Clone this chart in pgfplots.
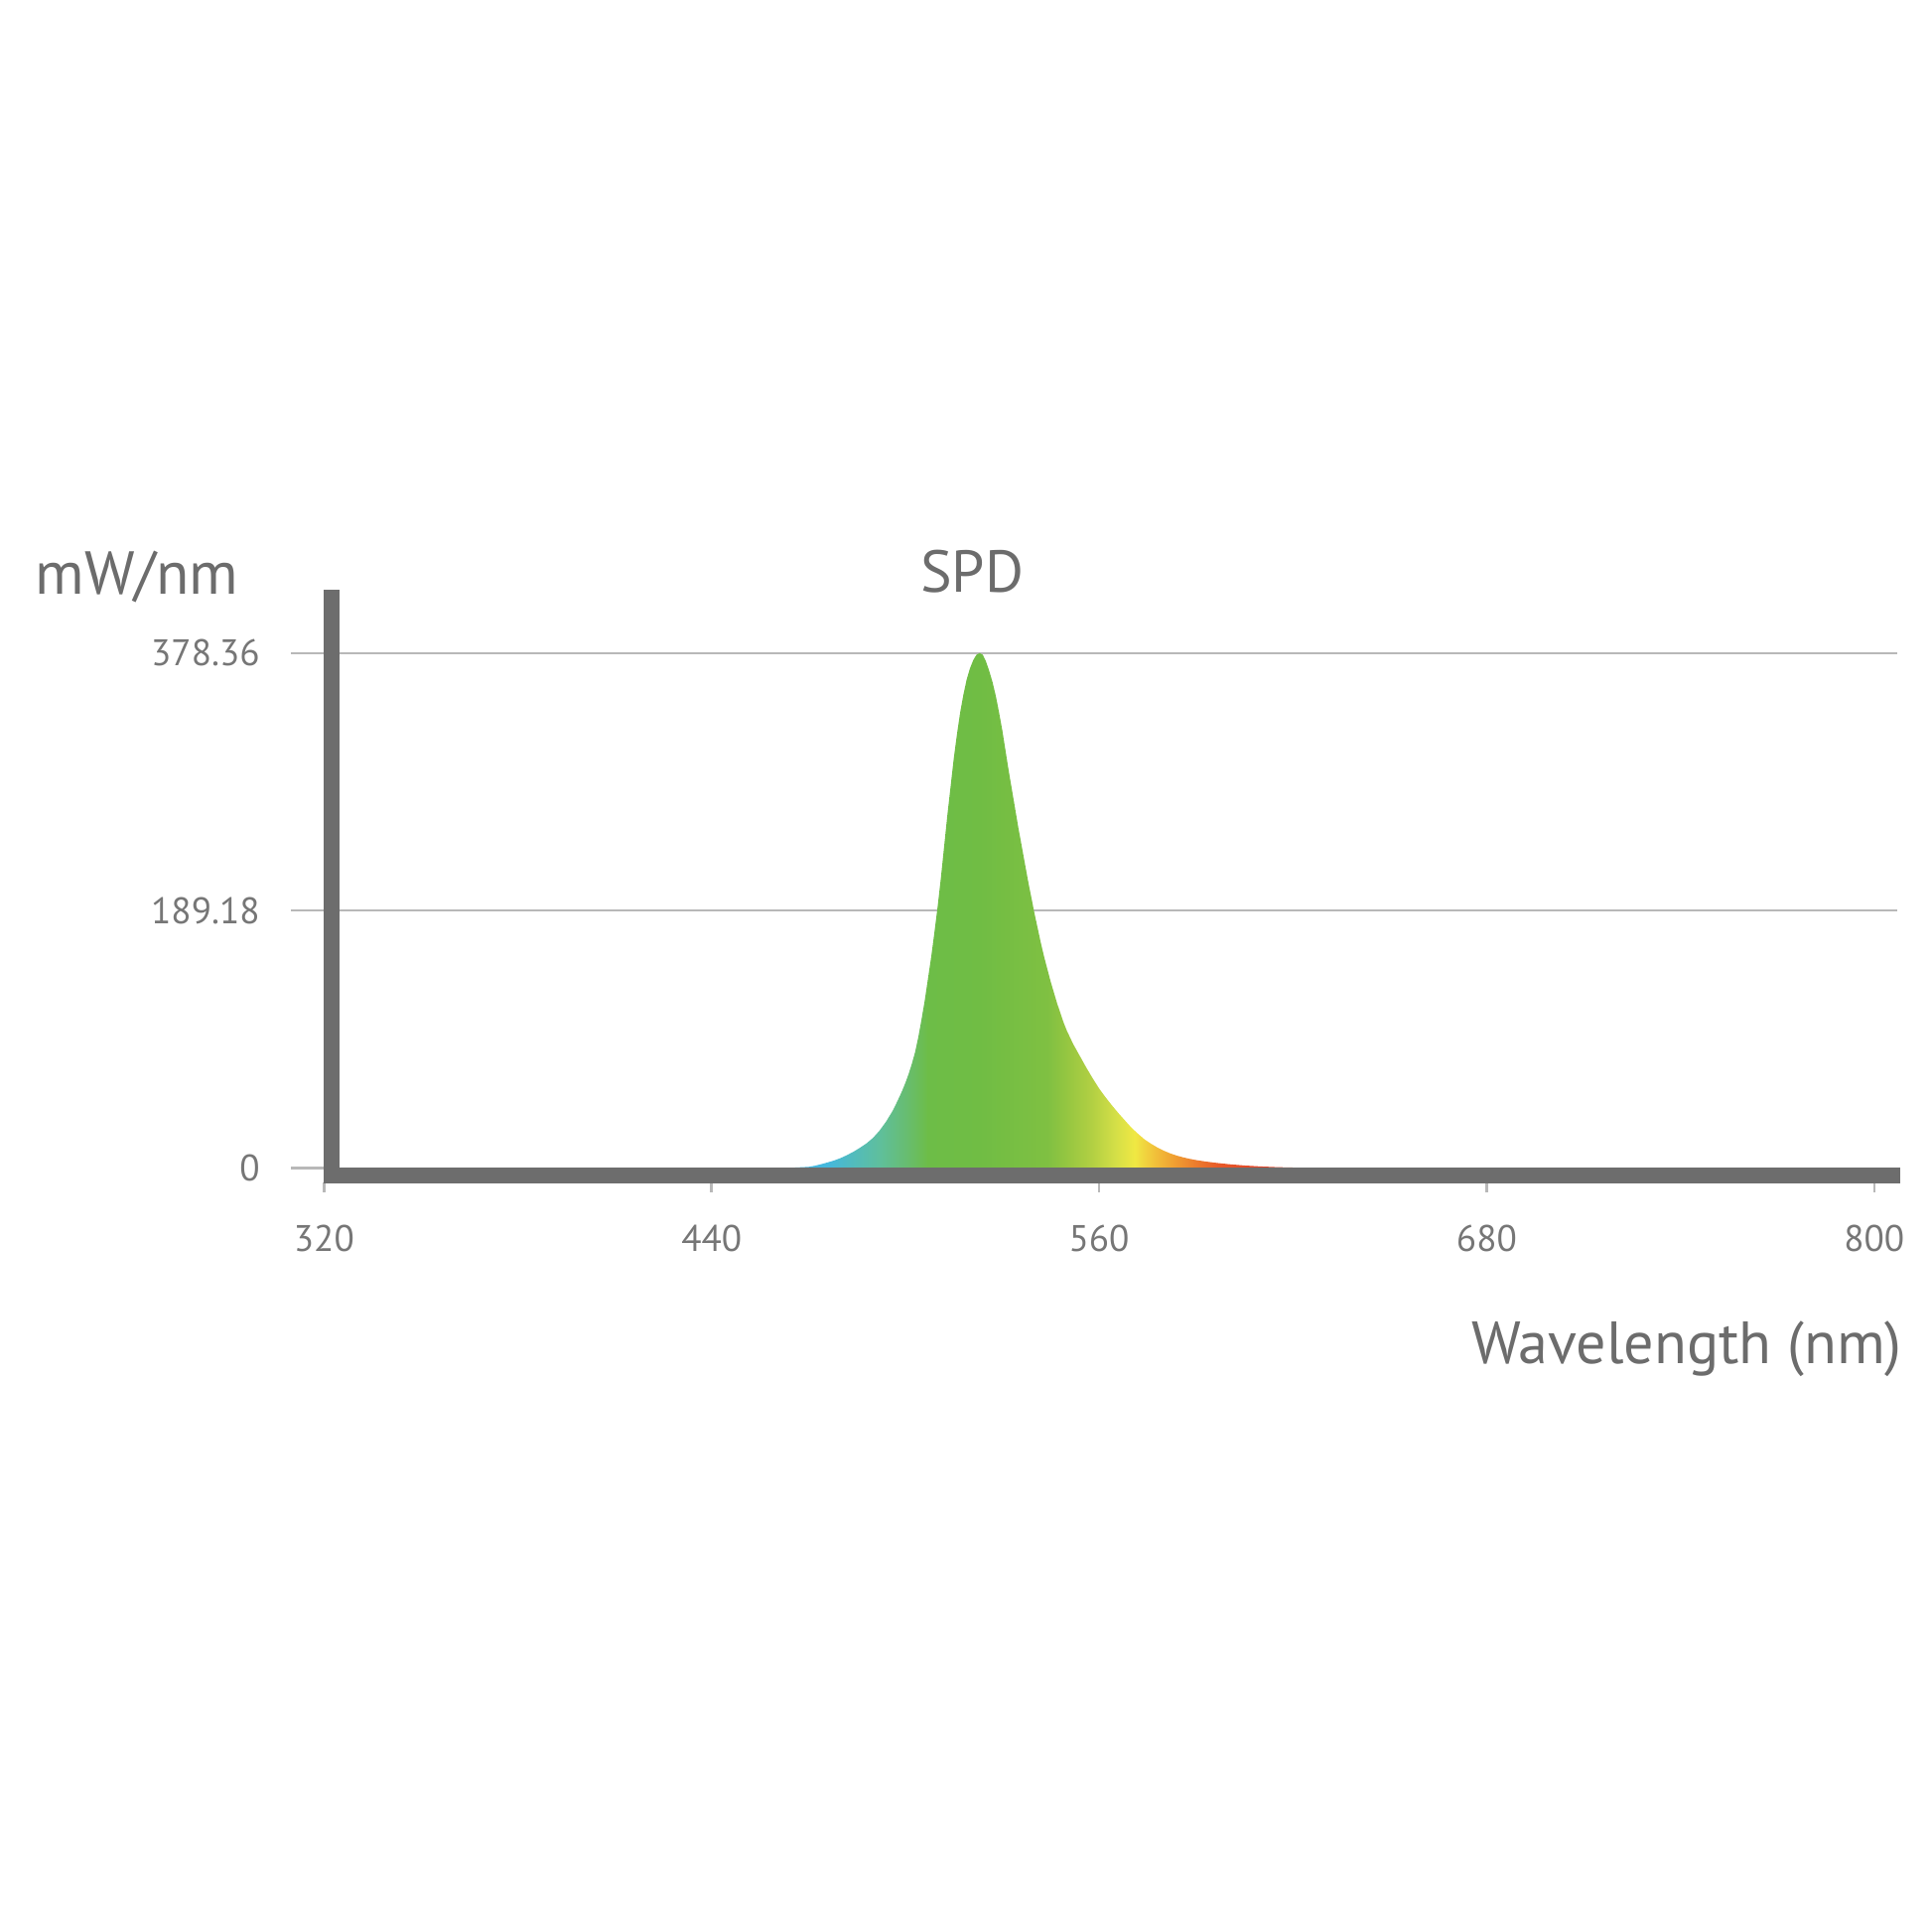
\documentclass[border=0pt]{standalone}
\usepackage{fontspec}
\setmainfont{PT Sans}
\usepackage{pgfplots}
\pgfplotsset{compat=1.18}
\definecolor{axgray}{HTML}{6D6D6D}
\definecolor{txtgray}{HTML}{6C6C6C}
\definecolor{ticktxt}{HTML}{767676}
\definecolor{gridgray}{HTML}{B8B8B8}
\definecolor{s01}{HTML}{3FB4E5}
\definecolor{s02}{HTML}{45B8DC}
\definecolor{s03}{HTML}{5FBF9C}
\definecolor{s04}{HTML}{67BD72}
\definecolor{s05}{HTML}{6DBD47}
\definecolor{s06}{HTML}{70BD44}
\definecolor{s07}{HTML}{7FC042}
\definecolor{s08}{HTML}{95C641}
\definecolor{s09}{HTML}{B3D043}
\definecolor{s10}{HTML}{D4DF47}
\definecolor{s11}{HTML}{F0E843}
\definecolor{s12}{HTML}{F1C23A}
\definecolor{s13}{HTML}{F0A032}
\definecolor{s14}{HTML}{EC7B2D}
\definecolor{s15}{HTML}{E85A28}
\definecolor{s16}{HTML}{E0452A}
% path spans 460..640 nm -> 25bp..75bp
\pgfdeclarehorizontalshading{spd}{100bp}{%
  color(0bp)=(s01); color(25bp)=(s01); color(29.44bp)=(s02);
  color(33.89bp)=(s03); color(36.11bp)=(s04); color(38.06bp)=(s05);
  color(42.5bp)=(s06); color(48.33bp)=(s07); color(50bp)=(s08);
  color(52.22bp)=(s09); color(54.17bp)=(s10); color(55.83bp)=(s11);
  color(57.5bp)=(s12); color(59.17bp)=(s13); color(61.11bp)=(s14);
  color(63.06bp)=(s15); color(66.67bp)=(s16); color(75bp)=(s16);
  color(100bp)=(s16)}

\pgfplotstableread{
x y
460 0
465 0.3
470 0.9
472 1.7
474 2.9
476 4.2
478 5.6
480 7.4
482 9.6
484 12.1
486 15.0
488 18.2
490 22.2
492 27.5
494 34.0
496 41.8
497 46.5
498 51.5
499 56.7
500 62.5
501 69
502 76.5
503 85
504 96
505 109
506 123
507 139
508 155
509 173
510 192
511 213
512 236
513 259
514 280
515 301
516 319
517 335
518 348
519 359
520 367
521 373
522 377
523 378.36
524 377
525 372
526 365
527 357
528 347
529 335
530 322
531 307
532 292
533 278
534 264
535 250
536 237
537 224
538 211
539 199
540 187
541 176
542 165
543 155
544 146
545 137
546 129
547 121
548 114
549 107
550 101
552 91
554 82.5
556 74
558 66
560 58.5
562 52
564 46
566 40.3
568 35
570 29.7
572 25.3
574 21.2
576 18
578 15.2
580 12.8
582 10.8
584 9.2
586 7.9
588 6.8
590 5.9
593 4.8
596 3.9
600 2.9
605 1.9
610 1.2
615 0.7
620 0.4
630 0.1
640 0
}\spd

\begin{document}
\begin{tikzpicture}
\useasboundingbox (-59pt,-152.125pt) rectangle (333pt,239.875pt);
\begin{axis}[
  at={(0pt,0pt)}, anchor=south west,
  scale only axis, width=326.05pt, height=120.26pt,
  xmin=309.7, xmax=807.3, ymin=-10.4, ymax=425,
  clip=false,
  axis line style={draw=none},
  xtick={320,440,560,680,800},
  ytick={189.18,378.36},
  yticklabels={189.18,378.36},
  extra y ticks={0},
  extra y tick labels={0},
  extra y tick style={ymajorgrids=false},
  tick pos=left,
  tick align=outside,
  major tick length=2pt,
  ytick style={draw=none},
  xtick style={draw=gridgray, line width=0.5pt},
  ymajorgrids,
  major grid style={gridgray, line width=0.5pt},
  ticklabel style={font=\fontsize{7.5}{9}\selectfont, text=ticktxt},
  /pgf/number format/assume math mode=true,
  yticklabel style={anchor=east, inner sep=0pt, xshift=-4.1pt},
  xticklabel style={anchor=north, inner sep=0pt, yshift=-6.4pt},
]
\addplot[draw=none, shading=spd] table[x=x, y=y] {\spd} \closedcycle;
\draw[gridgray, line width=0.5pt] (axis cs:309.7,0) -- (axis cs:322,0);
\draw[axgray, line width=3.3pt] (axis cs:320,-5.5) -- (axis cs:808,-5.5);
\draw[axgray, line width=3.1pt] (axis cs:322.3,-11.4) -- (axis cs:322.3,425);
\end{axis}
\node[anchor=base west, inner sep=0pt, text=txtgray, font=\fontsize{12.3}{14}\selectfont] at (-52pt,119.375pt) {mW/nm};
\node[anchor=base, inner sep=0pt, text=txtgray, font=\fontsize{12}{14}\selectfont] at (138.25pt,119.625pt) {SPD};
\node[anchor=base east, inner sep=0pt, text=txtgray, font=\fontsize{12.1}{14}\selectfont] at (327.125pt,-36.775pt) {Wavelength (nm)};
\end{tikzpicture}
\end{document}
